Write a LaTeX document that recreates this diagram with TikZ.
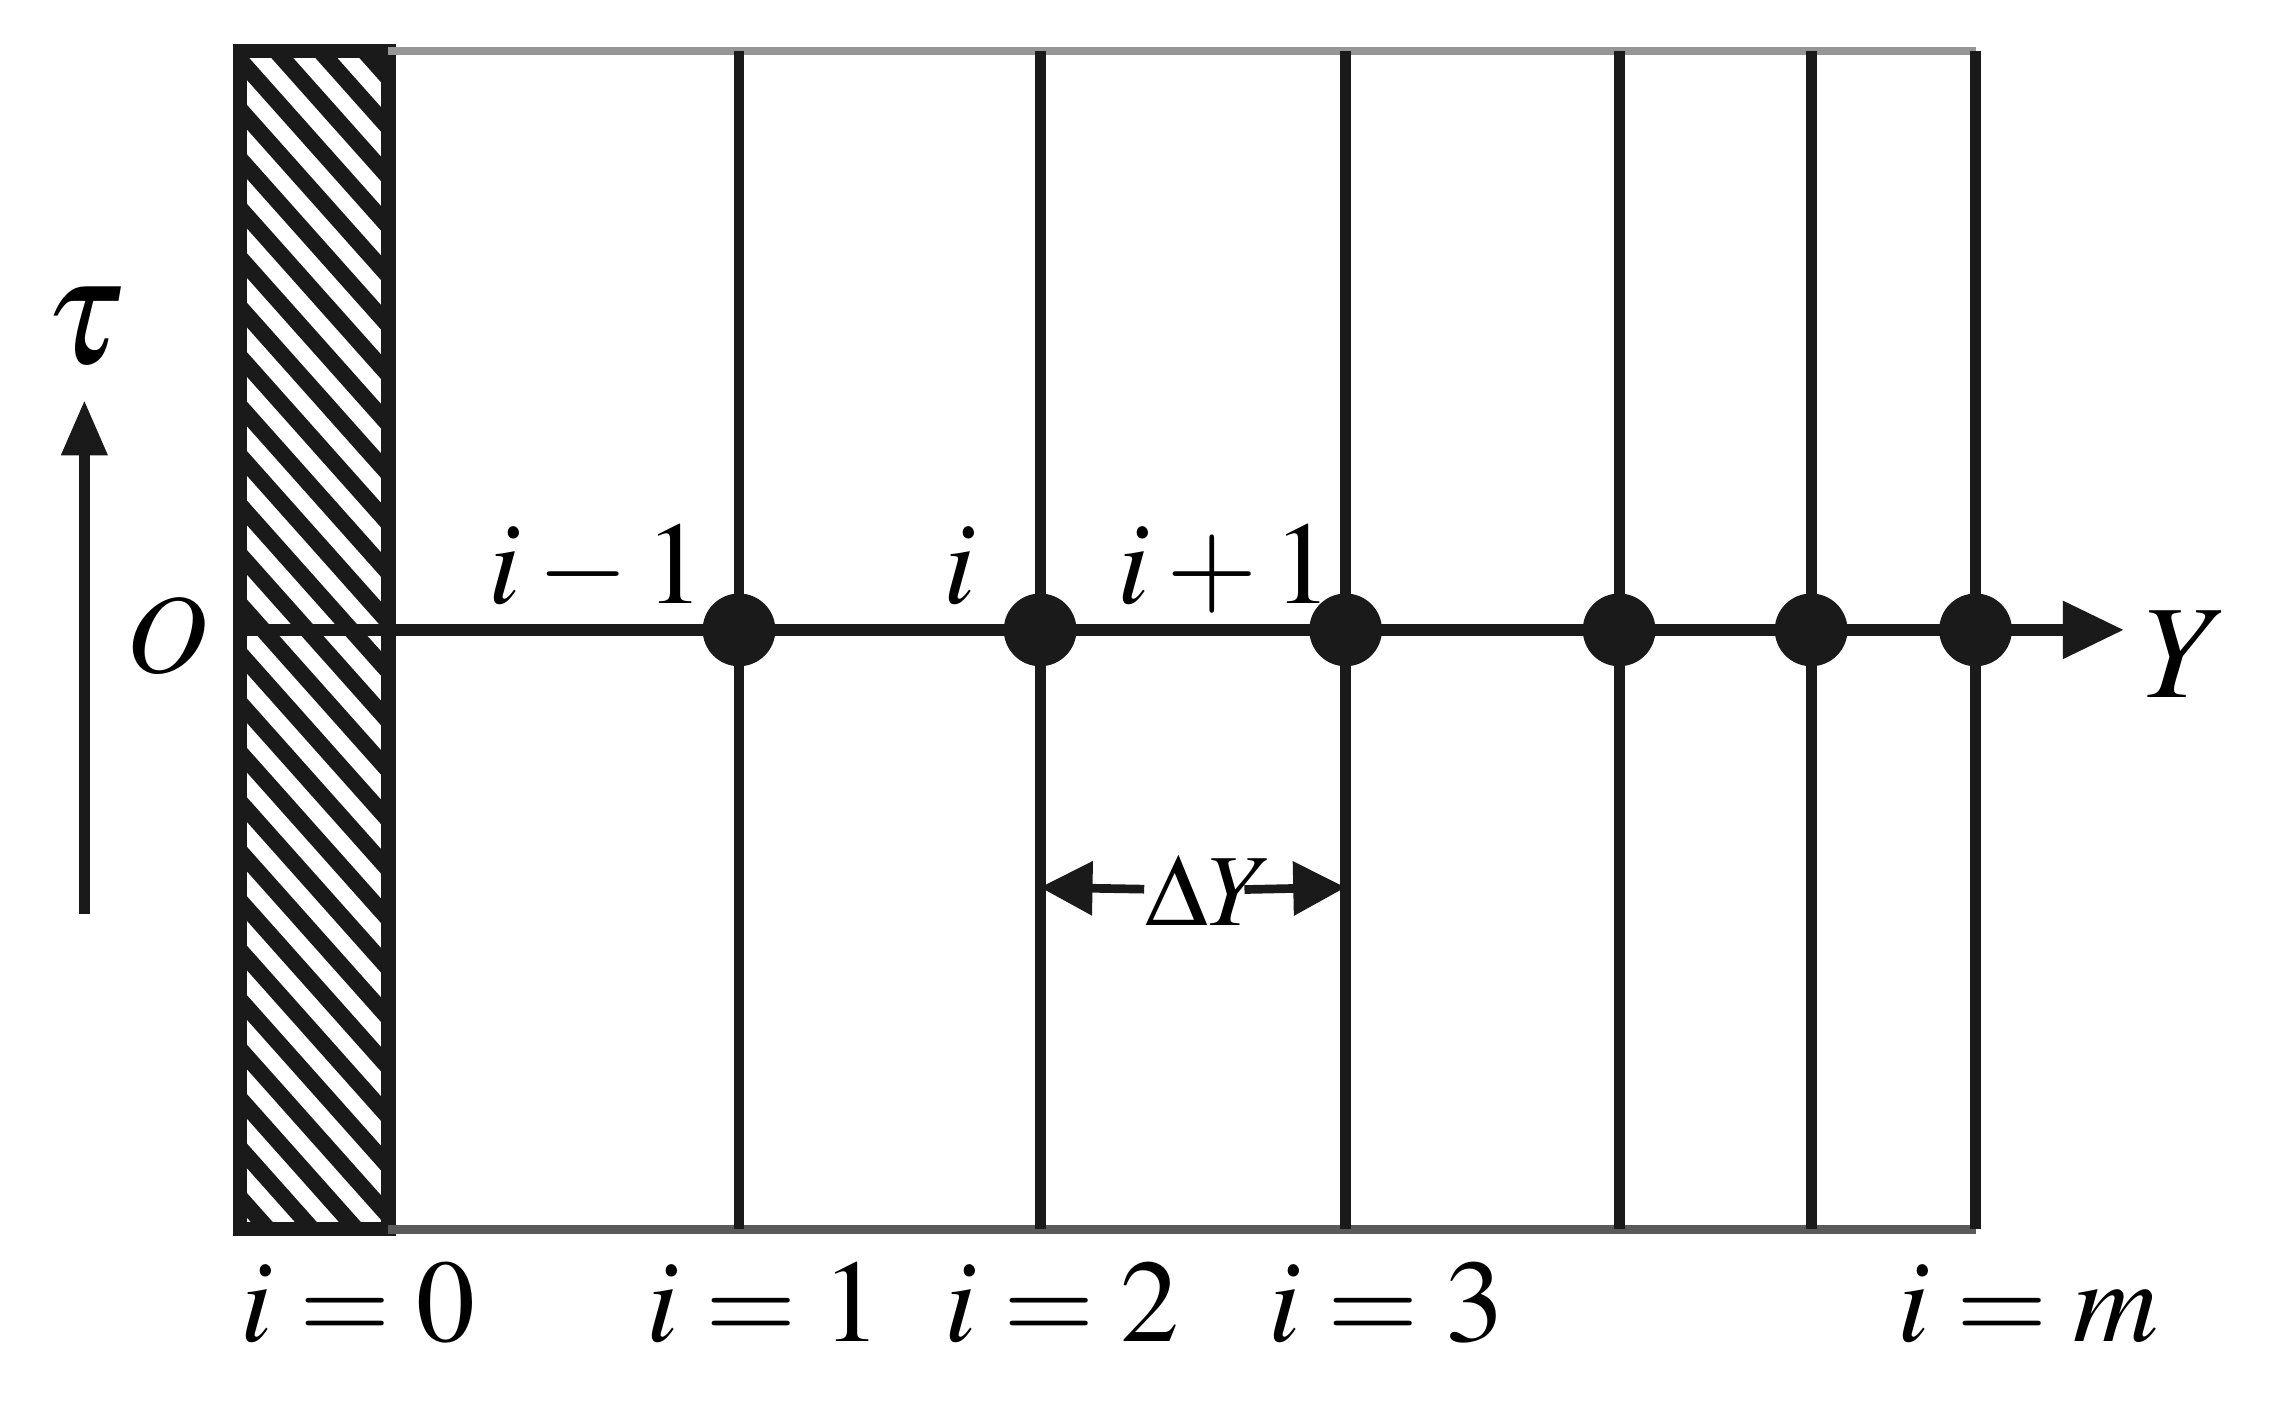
\documentclass[tikz,border=0pt]{standalone}
\usepackage{mathptmx}
\usepackage{tikz}
\usetikzlibrary{arrows.meta}
\definecolor{ink}{HTML}{1A1A1A}
\definecolor{rimtop}{HTML}{969696}
\definecolor{rimbot}{HTML}{5A5A5A}
\tikzset{
  gridline/.style={line width=2.1pt, draw=ink},
  rim/.style={line width=1.7pt},
  wall/.style={line width=2.8pt, draw=ink},
  hatchline/.style={line width=3.2pt, draw=ink},
  dot/.style={circle, fill=ink, inner sep=0pt, minimum size=0.5cm},
  axis/.style={line width=2.2pt, draw=ink, -{Triangle[length=0.42cm, width=0.38cm]}},
  timeaxis/.style={line width=2.2pt, draw=ink, -{Triangle[length=0.38cm, width=0.3cm]}},
  dim/.style={line width=1.7pt, draw=ink, -{Triangle[length=0.36cm, width=0.36cm]}},
  lab/.style={text=black, font=\fontsize{23}{27}\selectfont, inner sep=0pt},
}

\begin{document}
\begin{tikzpicture}
  \useasboundingbox (0,0) rectangle (15.68,9.64);

  \coordinate (W0) at (1.65,1.19);    % wall bottom left
  \coordinate (W1) at (2.67,9.29);    % wall top right
  \coordinate (WB) at (2.67,1.19);    % wall bottom right
  \coordinate (A0) at (1.60,5.31);    % axis start
  \coordinate (A1) at (14.60,5.31);   % axis tip
  \coordinate (T0) at (0.58,3.36);    % time arrow foot
  \coordinate (T1) at (0.58,6.89);    % time arrow tip

  % grid line ends
  \coordinate (t1) at (5.08,9.29);  \coordinate (b1) at (5.08,1.19);
  \coordinate (t2) at (7.15,9.29);  \coordinate (b2) at (7.15,1.19);
  \coordinate (t3) at (9.25,9.29);  \coordinate (b3) at (9.25,1.19);
  \coordinate (t4) at (11.13,9.29); \coordinate (b4) at (11.13,1.19);
  \coordinate (t5) at (12.45,9.29); \coordinate (b5) at (12.45,1.19);
  \coordinate (t6) at (13.58,9.29); \coordinate (b6) at (13.58,1.19);

  % hatched wall
  \begin{scope}
    \clip (W0) rectangle (W1);
    \foreach \c in {0.5,0.84,...,11.0}
      \draw[hatchline] (1.55,\c) -- ++(1.3,-1.46);
  \end{scope}
  \draw[wall] (W0) rectangle (W1);

  \draw[rim, draw=rimtop] (W1) -- (t6);
  \draw[rim, draw=rimbot] (WB) -- (b6);

  \draw[gridline] (t1) -- (b1);
  \draw[gridline] (t2) -- (b2);
  \draw[gridline] (t3) -- (b3);
  \draw[gridline] (t4) -- (b4);
  \draw[gridline] (t5) -- (b5);
  \draw[gridline] (t6) -- (b6);

  \draw[axis] (A0) -- (A1);

  \node[dot] (n1) at (5.08,5.31) {};
  \node[dot] (n2) at (7.15,5.31) {};
  \node[dot] (n3) at (9.25,5.31) {};
  \node[dot] (n4) at (11.13,5.31) {};
  \node[dot] (n5) at (12.45,5.31) {};
  \node[dot] (n6) at (13.58,5.31) {};

  \draw[timeaxis] (T0) -- (T1);
  \node[lab, font=\fontsize{30}{34}\selectfont] (tau) at (0.58,7.39) {$\tau$};
  \node[lab, font=\fontsize{22}{26}\selectfont] (orig) at (1.15,5.27) {$O$};
  \node[lab, font=\fontsize{26}{30}\selectfont] (Ylab) at (15.03,5.14) {$Y$};

  \node[lab, anchor=base] (im) at (4.10,5.49) {$i-1$};
  \node[lab, anchor=base] (ic) at (6.60,5.49) {$i$};
  \node[lab, anchor=base] (ip) at (8.42,5.49) {$i+1$};

  % spacing arrow
  \coordinate (d2) at (7.15,3.54);
  \coordinate (d3) at (9.25,3.54);
  \node[lab, font=\fontsize{20}{24}\selectfont] (dY) at (8.31,3.52) {$\Delta Y$};
  \draw[dim] (dY) -- (d2);
  \draw[dim, shorten <=-0.2cm] (dY) -- (d3);

  \node[lab, anchor=base] (i0) at (2.46,0.42) {$i=0$};
  \node[lab, anchor=base] (i1) at (5.25,0.42) {$i=1$};
  \node[lab, anchor=base] (i2) at (7.30,0.42) {$i=2$};
  \node[lab, anchor=base] (i3) at (9.53,0.42) {$i=3$};
  \node[lab, anchor=base] (iM) at (13.94,0.42) {$i=m$};
\end{tikzpicture}
\end{document}
